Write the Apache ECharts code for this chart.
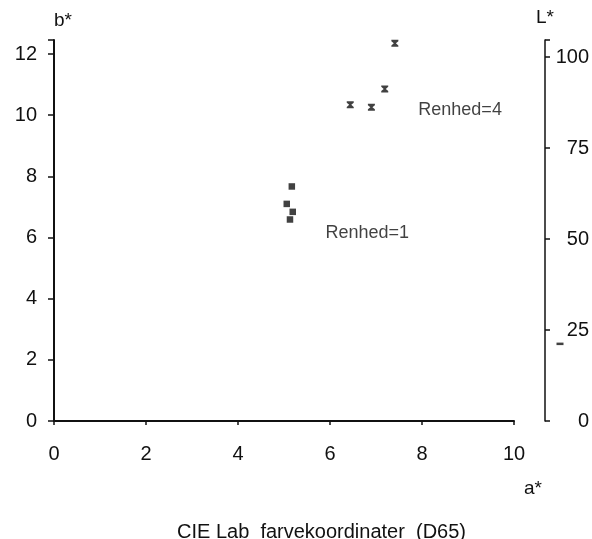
<!DOCTYPE html>
<html><head><meta charset="utf-8">
<script src="https://cdn.jsdelivr.net/npm/echarts@6/dist/echarts.min.js"></script>
<style>html,body{margin:0;padding:0;background:#fff}#c{width:592px;height:539px}</style>
</head><body><div id="c"></div>
<script>
// Renhed=1 (squares): a*, b*
const renhed1A = [5.17, 5.06, 5.19, 5.13];
const renhed1B = [7.67, 7.10, 6.84, 6.59];
// Renhed=4 (hourglass): a*, b*
const renhed4A = [7.41, 7.19, 6.44, 6.90];
const renhed4B = [12.35, 10.86, 10.34, 10.26];
// L* marker next to right axis
const lightA = [11.0];
const lightL = [21.2];
// annotations
const labelTexts = ['Renhed=1', 'Renhed=4'];
const labelA = [5.9, 7.92];
const labelB = [6.16, 10.17];
// axes
const xTicks = [0, 2, 4, 6, 8, 10];
const bTicks = [0, 2, 4, 6, 8, 10, 12];
const lTicks = [0, 25, 50, 75, 100];
const xName = 'a*';
const titleText = 'CIE Lab  farvekoordinater  (D65)';

const FONT = "'Liberation Sans', Arial, sans-serif";
const INK = '#111';
const chart = echarts.init(document.getElementById('c'), null, {renderer: 'canvas'});
const hourglass = 'path://M0,0L10,0L10,2L6.5,5L10,8L10,10L0,10L0,8L3.5,5L0,2Z';

chart.setOption({
  animation: false,
  backgroundColor: '#fff',
  title: {
    text: titleText, left: 172, top: 517,
    textStyle: {fontFamily: FONT, fontSize: 20, fontWeight: 'normal', color: INK}
  },
  graphic: [{
    type: 'text', left: 524, top: 479,
    style: {text: xName, font: "19px 'Liberation Sans', Arial, sans-serif", fill: INK}
  }],
  grid: {left: 54, right: 76, top: 40, bottom: 118},
  xAxis: {
    type: 'value', min: xTicks[0], max: xTicks[xTicks.length - 1], interval: 2,
    axisLine: {lineStyle: {color: INK, width: 2}},
    axisTick: {show: true, inside: false, length: 4, lineStyle: {color: INK, width: 1.5}},
    axisLabel: {fontFamily: FONT, fontSize: 20, color: INK, margin: 23},
    splitLine: {show: false}
  },
  yAxis: [{
    type: 'value', min: 0, max: 12.46, interval: 2, position: 'left',
    name: 'b*', nameLocation: 'end', nameGap: 10,
    nameTextStyle: {fontFamily: FONT, fontSize: 19, color: INK, align: 'left'},
    axisLine: {show: true, lineStyle: {color: INK, width: 2}},
    axisTick: {show: true, inside: false, length: 6, lineStyle: {color: INK, width: 1.5}},
    axisLabel: {fontFamily: FONT, fontSize: 20, color: INK, margin: 17, showMaxLabel: true,
      formatter: v => bTicks.includes(v) ? String(v) : ''},
    splitLine: {show: false}
  }, {
    type: 'value', min: 0, max: 104.7, interval: 25, position: 'right', offset: 31,
    name: 'L*', nameLocation: 'end', nameGap: 13,
    nameTextStyle: {fontFamily: FONT, fontSize: 19, color: INK},
    axisLine: {show: true, lineStyle: {color: INK, width: 1.5}},
    axisTick: {show: true, inside: false, length: 5, lineStyle: {color: INK, width: 1.5}},
    axisLabel: {fontFamily: FONT, fontSize: 20, color: INK, margin: 44, align: 'right',
      formatter: v => lTicks.includes(v) ? String(v) : ''},
    splitLine: {show: false}
  }],
  series: [{
    name: 'Renhed=1', type: 'scatter', symbol: 'rect', symbolSize: 6.5,
    itemStyle: {color: INK},
    data: renhed1A.map((a, i) => [a, renhed1B[i]])
  }, {
    name: 'Renhed=4', type: 'scatter', symbol: hourglass, symbolSize: [7, 7],
    itemStyle: {color: INK},
    data: renhed4A.map((a, i) => [a, renhed4B[i]])
  }, {
    name: 'L', type: 'scatter', yAxisIndex: 1, symbol: 'rect', symbolSize: [7, 2.5],
    clip: false, itemStyle: {color: INK},
    data: lightA.map((a, i) => [a, lightL[i]])
  }, {
    name: 'labels', type: 'scatter', symbolSize: 0, silent: true,
    label: {show: true, position: 'right', distance: 0, fontFamily: FONT, fontSize: 18, color: INK,
      formatter: p => labelTexts[p.dataIndex]},
    data: labelA.map((a, i) => [a, labelB[i]])
  }]
});
</script>
</body></html>
